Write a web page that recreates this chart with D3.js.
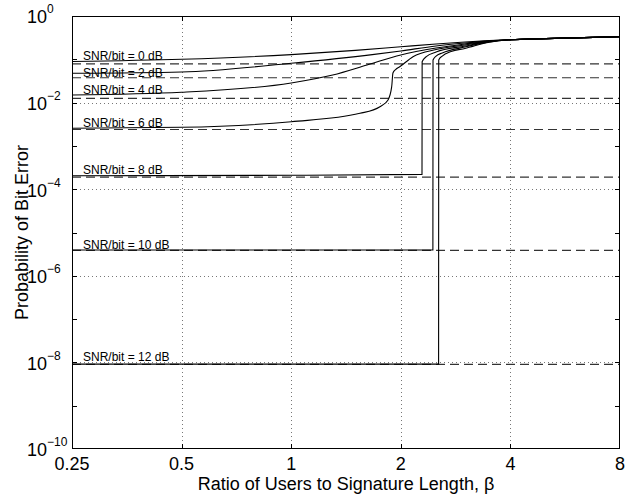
<!DOCTYPE html>
<html>
<head>
<meta charset="utf-8">
<script src="https://cdn.jsdelivr.net/npm/d3@7/dist/d3.min.js"></script>
<style>
  body { margin: 0; background: #fff; }
  text { font-family: "Liberation Sans", Arial, Helvetica, sans-serif; fill: #000; }
</style>
</head>
<body>
<div id="chart"></div>
<script>
// values
var snrLabels = ["SNR/bit = 0 dB", "SNR/bit = 2 dB", "SNR/bit = 4 dB", "SNR/bit = 6 dB",
                 "SNR/bit = 8 dB", "SNR/bit = 10 dB", "SNR/bit = 12 dB"];
var singleUserBER = [7.86e-2, 3.75e-2, 1.25e-2, 2.39e-3, 1.91e-4, 3.87e-6, 9.0e-9];
var labelBER = [9.6e-2, 3.9e-2, 1.54e-2, 2.8e-3, 2.25e-4, 4.05e-6, 1.05e-8];

var betaTicks = [0.25, 0.5, 1, 2, 4, 8];
var decades = [0, -1, -2, -3, -4, -5, -6, -7, -8, -9, -10];
var labelledDecades = [0, -2, -4, -6, -8, -10];

var beta0 = [0.25, 0.5, 1, 1.5, 2, 2.5, 3, 3.5];
var ber0  = [0.089, 0.100, 0.128, 0.161, 0.195, 0.226, 0.251, 0.270];

var beta2 = [0.25, 0.5, 1, 1.67, 2, 2.5, 3, 3.5];
var ber2  = [0.0475, 0.0509, 0.081, 0.128, 0.156, 0.203, 0.238, 0.266];

var beta4 = [0.25, 0.5, 1, 1.3, 1.615, 2, 2.5, 3, 3.5];
var ber4  = [0.0150, 0.0173, 0.0284, 0.0434, 0.0738, 0.126, 0.182, 0.226, 0.263];

var beta6 = [0.25, 0.5, 1, 1.545, 1.753, 1.845, 1.888, 1.903, 1.935, 1.99, 2.16, 2.5, 3, 3.5];
var ber6  = [0.00255, 0.00269, 0.00362, 0.00566, 0.00804, 0.0115, 0.0233, 0.0483, 0.058, 0.068, 0.115, 0.168, 0.214, 0.26];

var beta8 = [0.25, 1, 2.287, 2.289, 2.35, 2.5, 3, 3.5];
var ber8  = [2.05e-4, 2.1e-4, 2.2e-4, 0.088, 0.115, 0.147, 0.203, 0.257];

var beta10 = [0.25, 1, 2.45, 2.452, 2.5, 2.6, 3, 3.5];
var ber10  = [3.95e-6, 3.95e-6, 3.95e-6, 0.096, 0.119, 0.14, 0.192, 0.253];

var beta12 = [0.25, 1, 2.54, 2.542, 2.6, 2.75, 3, 3.5];
var ber12  = [9.1e-9, 9.1e-9, 9.1e-9, 0.096, 0.119, 0.151, 0.178, 0.249];

// all curves merge for large beta
var tailBeta = [4, 5, 6, 8];
var tailBER  = [0.283, 0.300, 0.313, 0.333];

var curveBeta = [beta0, beta2, beta4, beta6, beta8, beta10, beta12];
var curveBER  = [ber0, ber2, ber4, ber6, ber8, ber10, ber12];

var width = 626, height = 499;
var pLeft = 72, pRight = 620, pTop = 16, pBottom = 449;

var svg = d3.select("#chart").append("svg")
  .attr("width", width)
  .attr("height", height);

var x = d3.scaleLog().base(2).domain([0.25, 8]).range([pLeft, pRight]);
var y = d3.scaleLog().domain([1e-10, 1]).range([pBottom, pTop]);

// grid
var grid = svg.append("g")
  .attr("stroke", "#777")
  .attr("stroke-width", 1)
  .attr("stroke-dasharray", "1,3");

grid.selectAll("line.gx")
  .data(betaTicks.slice(1, -1))
  .enter().append("line")
  .attr("x1", d => Math.round(x(d)) + 0.5)
  .attr("x2", d => Math.round(x(d)) + 0.5)
  .attr("y1", pTop).attr("y2", pBottom);

grid.selectAll("line.gy")
  .data(labelledDecades.slice(1, -1))
  .enter().append("line")
  .attr("y1", d => Math.round(y(Math.pow(10, d))) + 0.5)
  .attr("y2", d => Math.round(y(Math.pow(10, d))) + 0.5)
  .attr("x1", pLeft).attr("x2", pRight);

// single user bounds (dashed)
svg.append("g").selectAll("line")
  .data(singleUserBER)
  .enter().append("line")
  .attr("x1", pLeft).attr("x2", pRight)
  .attr("y1", d => y(d)).attr("y2", d => y(d))
  .attr("stroke", "#333")
  .attr("stroke-width", 1.2)
  .attr("stroke-dasharray", "9,5");

// multiuser curves
var line = d3.line()
  .x(d => x(d[0]))
  .y(d => y(d[1]))
  .curve(d3.curveMonotoneX);

var curves = curveBeta.map(function(b, i) {
  var pts = b.map((v, j) => [v, curveBER[i][j]]);
  return pts.concat(tailBeta.map((v, j) => [v, tailBER[j]]));
});

svg.append("g").selectAll("path")
  .data(curves)
  .enter().append("path")
  .attr("d", line)
  .attr("fill", "none")
  .attr("stroke", "#000")
  .attr("stroke-width", 1.1);

// curve labels
svg.append("g").selectAll("text")
  .data(snrLabels)
  .enter().append("text")
  .attr("x", 83)
  .attr("y", (d, i) => y(labelBER[i]))
  .attr("font-size", "12px")
  .text(d => d);

// frame and ticks
var frame = svg.append("g").attr("stroke", "#000").attr("stroke-width", 1);
frame.append("rect")
  .attr("x", pLeft + 0.5).attr("y", pTop + 0.5)
  .attr("width", pRight - pLeft - 1).attr("height", pBottom - pTop - 1)
  .attr("fill", "none");

var tl = 5;
betaTicks.slice(1, -1).forEach(function(b) {
  var px = Math.round(x(b)) + 0.5;
  frame.append("line").attr("x1", px).attr("x2", px).attr("y1", pBottom).attr("y2", pBottom - tl);
  frame.append("line").attr("x1", px).attr("x2", px).attr("y1", pTop).attr("y2", pTop + tl);
});
decades.slice(1, -1).forEach(function(d) {
  var py = Math.round(y(Math.pow(10, d))) + 0.5;
  frame.append("line").attr("y1", py).attr("y2", py).attr("x1", pLeft).attr("x2", pLeft + tl);
  frame.append("line").attr("y1", py).attr("y2", py).attr("x1", pRight).attr("x2", pRight - tl);
});

// x tick labels
svg.append("g").selectAll("text")
  .data(betaTicks)
  .enter().append("text")
  .attr("x", d => x(d))
  .attr("y", 470)
  .attr("text-anchor", "middle")
  .attr("font-size", "18px")
  .text(d => d);

// y tick labels as powers of ten
var yl = svg.append("g").selectAll("text")
  .data(labelledDecades)
  .enter().append("text")
  .attr("x", 27)
  .attr("y", d => y(Math.pow(10, d)) + 7.4)
  .attr("font-size", "18px");
yl.append("tspan").text("10");
yl.append("tspan")
  .attr("dy", -10)
  .attr("font-size", "12px")
  .text(d => d === 0 ? "0" : "\u2212" + (-d));

// axis titles
svg.append("text")
  .attr("x", (pLeft + pRight) / 2)
  .attr("y", 490)
  .attr("text-anchor", "middle")
  .attr("font-size", "18px")
  .text("Ratio of Users to Signature Length, \u03b2");

svg.append("text")
  .attr("transform", "translate(28," + (pTop + pBottom) / 2 + ") rotate(-90)")
  .attr("text-anchor", "middle")
  .attr("font-size", "18px")
  .text("Probability of Bit Error");
</script>
</body>
</html>
